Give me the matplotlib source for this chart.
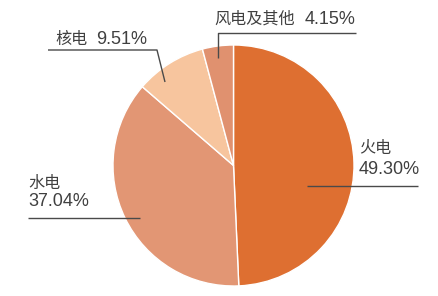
import matplotlib
matplotlib.use("Agg")
import matplotlib.pyplot as plt

plt.rcParams['font.family'] = ['Liberation Sans', 'Noto Sans CJK SC', 'DejaVu Sans']

labels = ['火电', '水电', '核电', '风电及其他']
shares = [49.30, 37.04, 9.51, 4.15]
colors = ['#DE6F31', '#E29674', '#F7C59E', '#E0916F']

W, H = 438, 296
fig = plt.figure(figsize=(W / 100, H / 100), dpi=100)
ax = fig.add_axes([0, 0, 1, 1])


def Y(y):
    # canvas-style y (from top) to axis y
    return H - y


cx, cy, r = 233.5, 165.5, 120.5
ax.pie(shares, colors=colors, startangle=90, counterclock=False,
       center=(cx, Y(cy)), radius=r, frame=True,
       wedgeprops=dict(edgecolor='white', linewidth=1.0))
ax.set_xlim(0, W)
ax.set_ylim(0, H)
ax.set_aspect('equal')
ax.axis('off')

name_style = dict(color='#404040', fontsize=11.6, va='baseline', ha='left')
num_style = dict(color='#404040', fontsize=13.0, va='baseline', ha='left')
line = dict(color='#4a4a4a', linewidth=1.0, solid_capstyle='butt')


def pct(v):
    return f'{v:.2f}%'


# 火电
ax.plot([307, 418], [Y(186), Y(186)], **line)
ax.text(359, Y(153), labels[0], **name_style)
ax.text(359, Y(174), pct(shares[0]), **num_style)

# 水电
ax.plot([28, 140], [Y(218), Y(218)], **line)
ax.text(28, Y(188), labels[1], **name_style)
ax.text(28, Y(206), pct(shares[1]), **num_style)

# 核电
ax.plot([48, 157, 165], [Y(50), Y(50), Y(82)], **line)
ax.text(55, Y(44), labels[2], **name_style)
ax.text(96, Y(44), pct(shares[2]), **num_style)

# 风电及其他
ax.plot([356, 218, 218], [Y(33), Y(33), Y(58)], **line)
ax.text(214, Y(24), labels[3], **name_style)
ax.text(305, Y(24), pct(shares[3]), **num_style)

fig.savefig('out.png', dpi=100, facecolor='white')
